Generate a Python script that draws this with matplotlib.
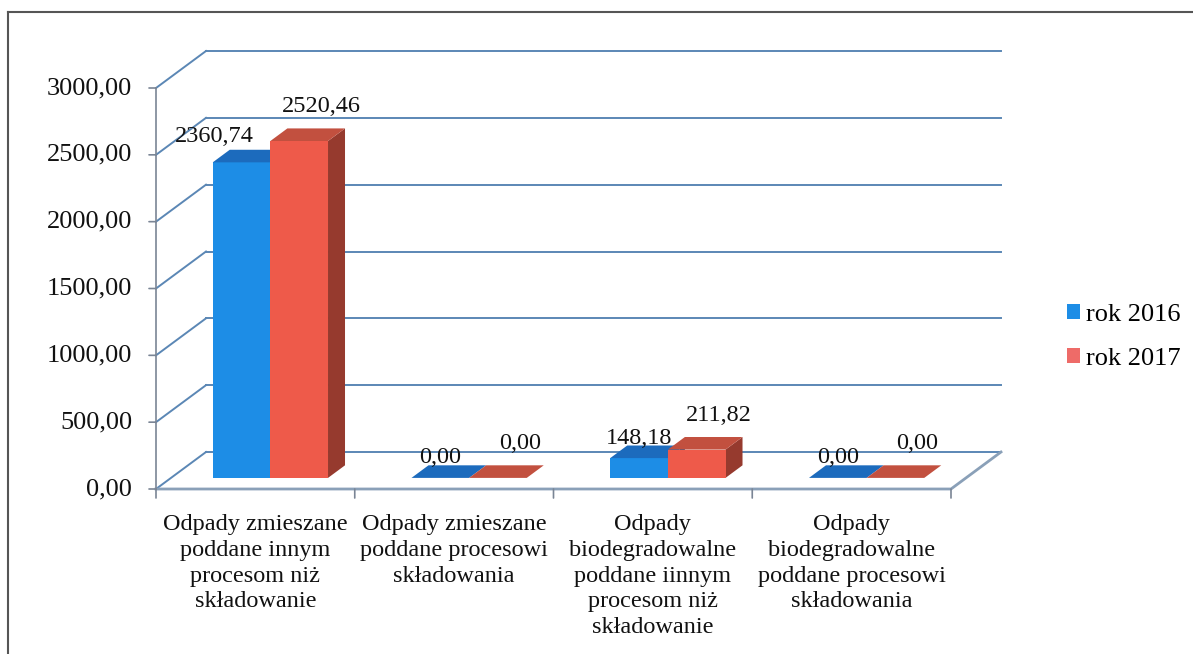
import matplotlib
matplotlib.use("Agg")
import matplotlib.pyplot as plt
from matplotlib.patches import Polygon, Patch
from matplotlib.lines import Line2D

# ---------------- data ----------------
categories = [
    "Odpady zmieszane\npoddane innym\nprocesom niż\nskładowanie",
    "Odpady zmieszane\npoddane procesowi\nskładowania",
    "Odpady\nbiodegradowalne\npoddane iinnym\nprocesom niż\nskładowanie",
    "Odpady\nbiodegradowalne\npoddane procesowi\nskładowania",
]
series_names = ["rok 2016", "rok 2017"]
values_2016 = [2360.74, 0.00, 148.18, 0.00]
values_2017 = [2520.46, 0.00, 211.82, 0.00]
y_ticks = [0, 500, 1000, 1500, 2000, 2500, 3000]

# ---------------- style ----------------
W, H, DPI = 1193, 654, 100
FONT = "Liberation Serif"
FS = 17.5
FS_TICK = 19
FS_LEG = 19
GRID = "#5b87b5"
FLOOR = "#8aa0b8"
AXIS = "#7a8595"
front_cols = ["#1d8de6", "#ee5a4a"]
top_cols = ["#1c6bbd", "#c2503f"]
side_cols = ["#155a9c", "#963a2e"]

# pixel geometry of the oblique projection
X0_PX, X4_PX = 156, 951
Y0_PX, Y3000_PX = 489, 88
DEPTH_PX = (50, 37)

fig = plt.figure(figsize=(W / DPI, H / DPI), dpi=DPI)
ax = fig.add_axes([0, 0, 1, 1])
ax.set_axis_off()
n = len(categories)
pxc = (X4_PX - X0_PX) / n
pyv = (Y0_PX - Y3000_PX) / 3000.0
ax.set_xlim(-X0_PX / pxc, (W - X0_PX) / pxc)
ax.set_ylim(-(H - Y0_PX) / pyv, Y0_PX / pyv)
DX = DEPTH_PX[0] / pxc
DY = DEPTH_PX[1] / pyv


def P(x, v, z):
    return (x + z * DX, v + z * DY)


# back wall gridlines and left wall diagonals
for v in y_ticks:
    a = P(0, v, 1)
    b = P(n, v, 1)
    ax.plot([a[0], b[0]], [a[1], b[1]], color=GRID, lw=1.4, zorder=1)
    c = P(0, v, 0)
    ax.plot([c[0], a[0]], [c[1], a[1]], color=GRID, lw=1.4, zorder=1)
    ax.annotate("", xy=c, xytext=(-7, 0), textcoords="offset pixels",
                arrowprops=dict(arrowstyle="-", color=AXIS, lw=1.2,
                                shrinkA=0, shrinkB=0))
    ax.annotate(f"{v:.2f}".replace(".", ","), xy=c, xytext=(-24, 0),
                textcoords="offset pixels", ha="right", va="center",
                fontsize=FS_TICK, family=FONT, color="#111111")

# floor
f0, f1, f2 = P(0, 0, 0), P(n, 0, 0), P(n, 0, 1)
ax.plot([f0[0], f1[0], f2[0]], [f0[1], f1[1], f2[1]], color=FLOOR, lw=2.0, zorder=2)
# vertical axis line
ax.plot([0, 0], [0, y_ticks[-1]], color=AXIS, lw=1.2, zorder=2)
# category ticks
for i in range(n + 1):
    ax.annotate("", xy=(i, 0), xytext=(0, -9), textcoords="offset pixels",
                arrowprops=dict(arrowstyle="-", color=AXIS, lw=1.2,
                                shrinkA=0, shrinkB=0))

# bars
BW = 0.29
Z0, Z1 = 0.30, 0.64
label_off = [(0, 20), (22, 34)]
label_nudge = {(0, 0): (-27, 6)}
for s, vals in enumerate([values_2016, values_2017]):
    for i, v in enumerate(vals):
        xl = i + 0.5 - BW + s * BW
        xr = xl + BW
        front = [P(xl, 0, Z0), P(xr, 0, Z0), P(xr, v, Z0), P(xl, v, Z0)]
        top = [P(xl, v, Z0), P(xr, v, Z0), P(xr, v, Z1), P(xl, v, Z1)]
        side = [P(xr, 0, Z0), P(xr, 0, Z1), P(xr, v, Z1), P(xr, v, Z0)]
        z = 5 + s * 2 - i * 0.01
        if v > 0:
            ax.add_patch(Polygon(side, closed=True, fc=side_cols[s], ec="none", zorder=z))
            ax.add_patch(Polygon(front, closed=True, fc=front_cols[s], ec="none", zorder=z + 0.5))
        ax.add_patch(Polygon(top, closed=True, fc=top_cols[s], ec="none", zorder=z + 0.6))
        cx, cy = P(xl + BW / 2, v, Z0)
        dx, dy = label_off[s]
        nx, ny = label_nudge.get((s, i), (0, 0))
        ax.annotate(f"{v:.2f}".replace(".", ","), xy=(cx, cy),
                    xytext=(dx + nx, dy + ny), textcoords="offset pixels",
                    ha="center", va="center", fontsize=FS, family=FONT,
                    color="#111111", zorder=20)

# category labels
for i, lab in enumerate(categories):
    ax.annotate(lab, xy=(i + 0.5, 0), xytext=(0, -25), textcoords="offset pixels",
                ha="center", va="top", fontsize=FS, family=FONT,
                color="#111111", linespacing=1.3)

# legend
handles = [Patch(facecolor=front_cols[0], edgecolor="none"),
           Patch(facecolor="#ee6b68", edgecolor="none")]
fig.legend(handles, series_names, loc="center left",
           bbox_to_anchor=(1054 / W, 1 - 337 / H), frameon=False,
           prop=dict(family=FONT, size=FS_LEG), handlelength=0.5,
           handleheight=0.5, handletextpad=0.2, labelspacing=0.85,
           borderpad=0)

# outer border (top and left visible)
fig.add_artist(Line2D([8 / W, 1], [1 - 12 / H, 1 - 12 / H], transform=fig.transFigure,
                      color="#555555", lw=1.5))
fig.add_artist(Line2D([8 / W, 8 / W], [0, 1 - 12 / H], transform=fig.transFigure,
                      color="#555555", lw=1.5))

fig.savefig("out.png", dpi=DPI, facecolor="white")
